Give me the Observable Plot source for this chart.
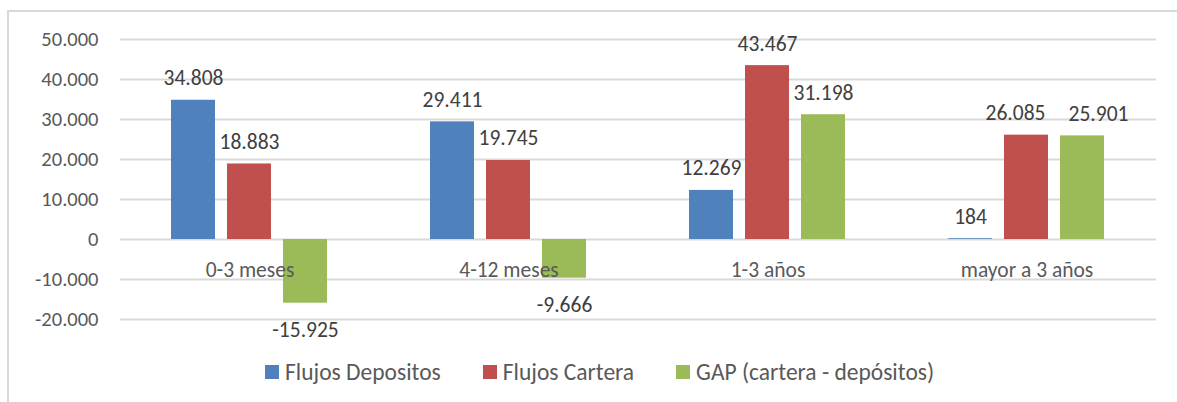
<!DOCTYPE html>
<html>
<head>
<meta charset="utf-8">
<script src="https://cdn.jsdelivr.net/npm/d3@7"></script>
<script src="https://cdn.jsdelivr.net/npm/@observablehq/plot@0.6"></script>
<style>
  html, body { margin: 0; padding: 0; background: #fff; width: 1177px; height: 402px; overflow: hidden; }
  body { font-family: Carlito, Lato, "Open Sans", sans-serif; color: #595959; position: relative; }
  #frame { position: absolute; left: 7px; top: 10px; width: 1180px; height: 400px; border-left: 2px solid #D9D9D9; border-top: 2px solid #D9D9D9; box-sizing: border-box; }
  #chart { position: absolute; left: 0; top: 0; }
  #legend { position: absolute; left: 265px; top: 358px; height: 28px; display: flex; align-items: center; font-size: 23.5px; color: #595959; white-space: nowrap; }
  .item { display: flex; align-items: center; margin-right: 42px; }
  .sw { width: 14px; height: 14px; margin-right: 6px; }
</style>
</head>
<body>
<div id="frame"></div>
<div id="chart"></div>
<div id="legend"></div>
<script>
const categories = ["0-3 meses", "4-12 meses", "1-3 años", "mayor a 3 años"];
const seriesNames = ["Flujos Depositos", "Flujos Cartera", "GAP (cartera - depósitos)"];
const colors = ["#4F81BD", "#C0504D", "#9BBB59"];
const flujosDepositos = [34808, 29411, 12269, 184];
const flujosCartera = [18883, 19745, 43467, 26085];
const gap = [-15925, -9666, 31198, 25901];
const yTicks = [-20000, -10000, 0, 10000, 20000, 30000, 40000, 50000];

const seriesValues = [flujosDepositos, flujosCartera, gap];
const data = [];
categories.forEach((c, i) => {
  seriesNames.forEach((s, j) => {
    data.push({ category: c, series: s, value: seriesValues[j][i] });
  });
});

const fmt = v => {
  const s = Math.abs(v).toString().replace(/\B(?=(\d{3})+(?!\d))/g, ".");
  return (v < 0 ? "-" : "") + s;
};

const font = "Carlito, Lato, 'Open Sans', sans-serif";
const lastCat = categories[categories.length - 1];
const isShiftedLeft = d => d.category === lastCat && d.series === seriesNames[1];
const isShiftedRight = d => d.category === lastCat && d.series === seriesNames[2];
const plain = d => d.value >= 0 && !isShiftedLeft(d) && !isShiftedRight(d);
const labelOpts = { fx: "category", x: "series", y: "value", text: d => fmt(d.value), fill: "#404040", fontSize: 21.5 };

const chart = Plot.plot({
  width: 1177,
  height: 350,
  marginTop: 39,
  marginBottom: 31,
  marginLeft: 120,
  marginRight: 21,
  style: { fontFamily: font, fontSize: "20.5px", color: "#595959", background: "transparent" },
  fx: { domain: categories, padding: 0, axis: null },
  x: { domain: seriesNames, paddingInner: 0.21, paddingOuter: 0.877, axis: null },
  y: { domain: [-20000, 50000], ticks: yTicks, tickFormat: fmt, tickSize: 0, tickPadding: 22, label: null },
  color: { domain: seriesNames, range: colors },
  marks: [
    Plot.ruleY(yTicks, { stroke: "#D9D9D9", strokeWidth: 2 }),
    Plot.barY(data, { fx: "category", x: "series", y: "value", fill: "series" }),
    Plot.text(data.filter(plain), { ...labelOpts, dy: -22 }),
    Plot.text(data.filter(isShiftedLeft), { ...labelOpts, dy: -22, dx: -11 }),
    Plot.text(data.filter(isShiftedRight), { ...labelOpts, dy: -22, dx: 16 }),
    Plot.text(data.filter(d => d.value < 0), { ...labelOpts, dy: 27 }),
    Plot.text(categories, { fx: d => d, y: () => 0, text: d => d, dy: 31, fill: "#595959", fontSize: 21.5 })
  ]
});
document.getElementById("chart").appendChild(chart);

const legend = document.getElementById("legend");
seriesNames.forEach((s, i) => {
  const item = document.createElement("div");
  item.className = "item";
  const sw = document.createElement("div");
  sw.className = "sw";
  sw.style.background = colors[i];
  const t = document.createElement("span");
  t.textContent = s;
  item.appendChild(sw);
  item.appendChild(t);
  legend.appendChild(item);
});
</script>
</body>
</html>
